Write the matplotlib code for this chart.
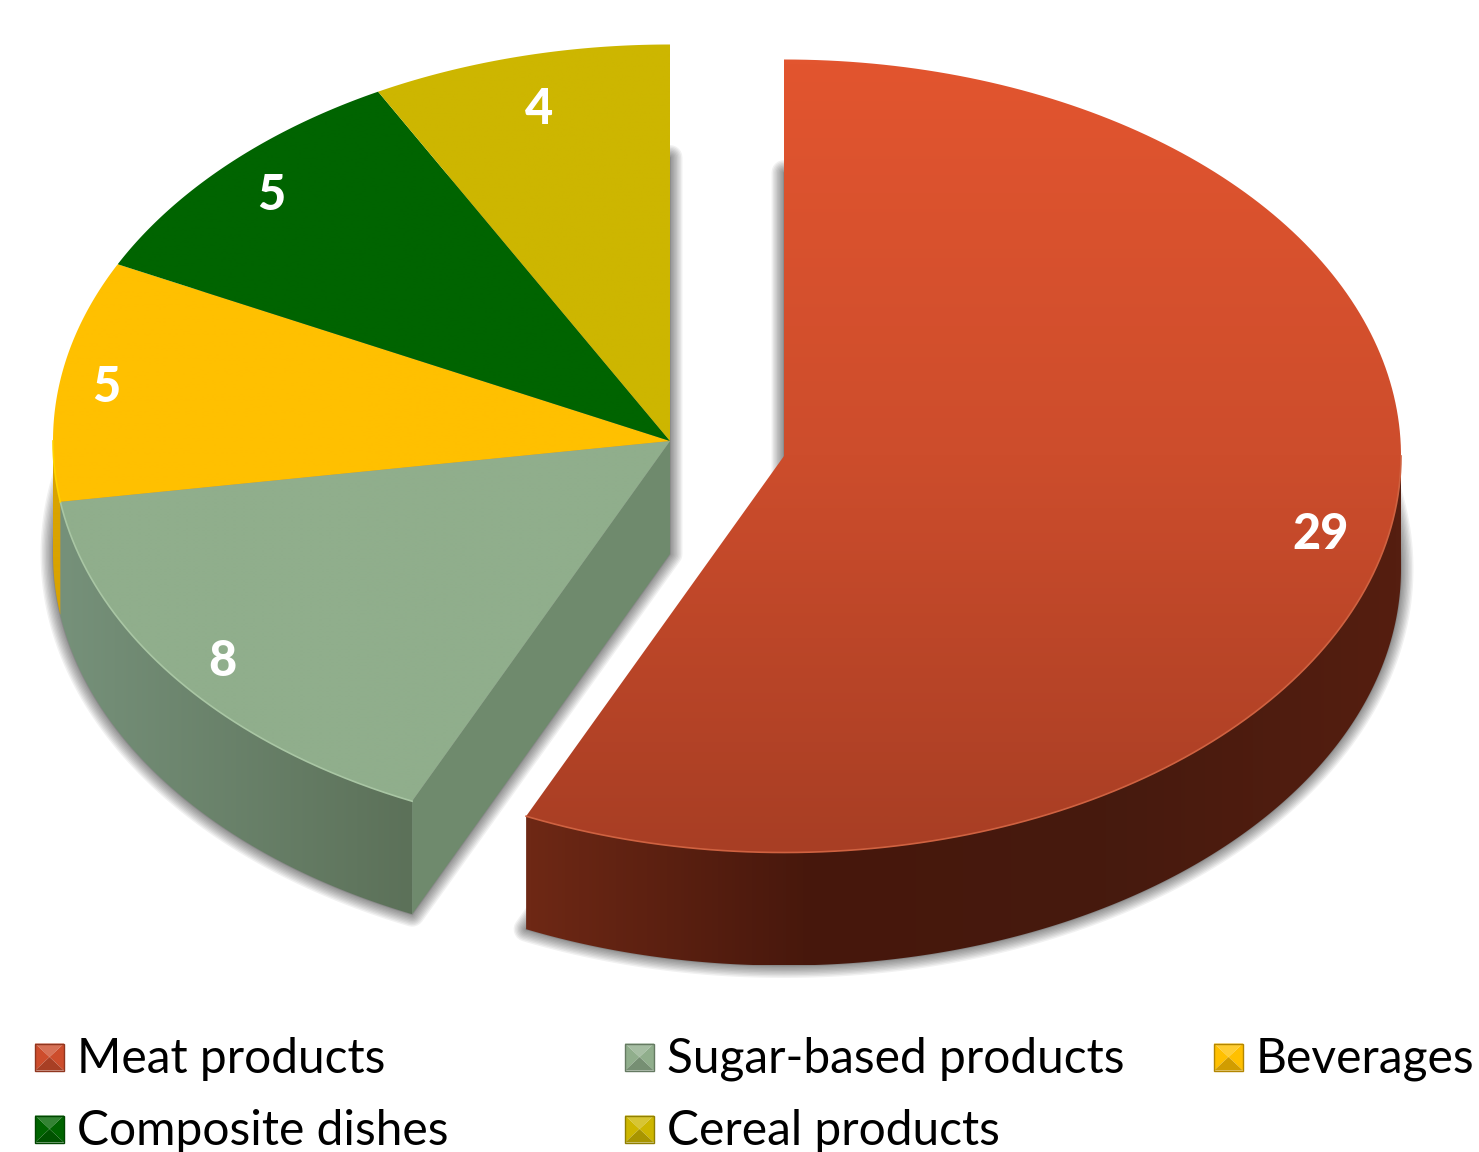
import numpy as np
import matplotlib as mpl
import matplotlib.pyplot as plt
from matplotlib.path import Path
from matplotlib.patches import PathPatch, Polygon
from matplotlib.colors import LinearSegmentedColormap, to_rgb

categories = ['Meat products', 'Sugar-based products', 'Beverages', 'Composite dishes', 'Cereal products']
values = [29, 8, 5, 5, 4]
top_colors = [['#e2552f', '#cd4d2c', '#a83e24'], ['#90ae8c', '#90ae8c'], ['#ffc000', '#ffc000'],
              ['#006400', '#006400'], ['#cdb600', '#cdb600']]
side_colors = [['#6e2815', '#46170c', '#461a0e', '#551e10'], ['#76917a', '#5c7159'],
               ['#d9a300', '#d9a300'], ['#004a00', '#004a00'], ['#9a8900', '#9a8900']]
rim_colors = ['#cf6241', '#a9c6a4', '#ffd400', '#006400', '#cdb600']
label_r = [0.89, 0.91, 0.925, 0.90, 0.87]

mpl.rc('font', family='Lato')

rx, ry, depth = 617, 396.5, 113
centers = [(784, 456), (670, 441), (670, 441), (670, 441), (670, 441)]

fig = plt.figure(figsize=(14.79, 11.52), dpi=100)
ax = fig.add_axes([0, 0, 1, 1])
ax.set_axis_off()


def arc(c, a0, a1, dy=0):
    # angles clockwise from the top, in degrees
    t = np.radians(np.linspace(a0, a1, 200))
    return np.column_stack([c[0] + rx * np.sin(t), c[1] + dy - ry * np.cos(t)])


def gradient_fill(points, colors, vertical, z):
    path = Path(np.vstack([points, points[:1]]), closed=True)
    patch = PathPatch(path, fc='none', ec='none')
    ax.add_patch(patch)
    x0, y0 = points.min(axis=0)
    x1, y1 = points.max(axis=0)
    cmap = LinearSegmentedColormap.from_list('g', colors)
    ramp = np.linspace(0, 1, 256)
    ramp = ramp[:, None] if vertical else ramp[None, :]
    im = ax.imshow(ramp, cmap=cmap, extent=[x0, x1, y1, y0], aspect='auto', zorder=z, interpolation='bilinear')
    im.set_clip_path(patch)


def shadow(points):
    for w in np.arange(2, 20, 2):
        ax.add_patch(Polygon(points, closed=True, fill=False, ec='black', alpha=0.055, lw=w, zorder=1,
                             joinstyle='round'))
    ax.fill(points[:, 0], points[:, 1], color='#888888', zorder=1)


fractions = np.array(values) / sum(values) * 360
ends = np.cumsum(fractions)
starts = ends - fractions

# soft shadow under the extruded pieces
shadow(np.vstack([[(centers[0][0], centers[0][1] + depth)], arc(centers[0], starts[0], ends[0], depth)]))
shadow(np.vstack([[(centers[1][0], centers[1][1] + depth)], arc(centers[1], starts[1], ends[-1], depth)]))

for i, v in enumerate(values):
    c = centers[i]
    a0, a1 = starts[i], ends[i]

    # outer wall, only the part that faces the viewer
    w0, w1 = max(a0, 90), min(a1, 270)
    if w1 > w0:
        upper = arc(c, w0, w1)
        lower = arc(c, w0, w1, depth)
        gradient_fill(np.vstack([upper, lower[::-1]]), side_colors[i], False, 3)

    # cut face of the left group
    if i == 1:
        edge = arc(c, a0, a0 + 0.001)[0]
        wall = np.array([c, edge, (edge[0], edge[1] + depth), (c[0], c[1] + depth)])
        ax.fill(wall[:, 0], wall[:, 1], color='#6f8a6d', zorder=3, lw=0)

    # top face
    top = np.vstack([[c], arc(c, a0, a1)])
    gradient_fill(top, top_colors[i], True, 4)
    if w1 > w0:
        rim = arc(c, w0, w1)
        ax.plot(rim[:, 0], rim[:, 1], color=rim_colors[i], lw=1.2, zorder=5)

    # value label
    mid = np.radians((a0 + a1) / 2)
    ax.text(c[0] + rx * label_r[i] * np.sin(mid), c[1] + 3 - ry * label_r[i] * np.cos(mid), str(v),
            color='white', fontsize=35, fontweight='black', ha='center', va='center', zorder=6)

# legend
legend_x = [35, 625, 1214, 35, 625]
legend_y = [1057, 1057, 1057, 1129, 1129]
for i, name in enumerate(categories):
    x, y = legend_x[i], legend_y[i]
    w, h = 29, 27
    base = np.array(to_rgb(top_colors[i][1]))
    light = base + (1 - base) * 0.2
    dark = base * 0.82
    l, r, t, b = x, x + w, y - h / 2, y + h / 2
    m = (x + w / 2, y)
    ax.fill([l, r, m[0]], [t, t, m[1]], color=light, lw=0, zorder=6)
    ax.fill([l, m[0], l], [t, m[1], b], color=base, lw=0, zorder=6)
    ax.fill([r, m[0], r], [t, m[1], b], color=base, lw=0, zorder=6)
    ax.fill([l, r, m[0]], [b, b, m[1]], color=dark, lw=0, zorder=6)
    ax.add_patch(Polygon([(l, t), (r, t), (r, b), (l, b)], closed=True, fill=False, ec=base * 0.7, lw=1, zorder=7))
    ax.text(x + 42, y + 2, name, color='black', fontsize=34.5, ha='left', va='center', zorder=6)

ax.set_xlim(0, 1479)
ax.set_ylim(1152, 0)

plt.savefig('out.png', dpi=100)
